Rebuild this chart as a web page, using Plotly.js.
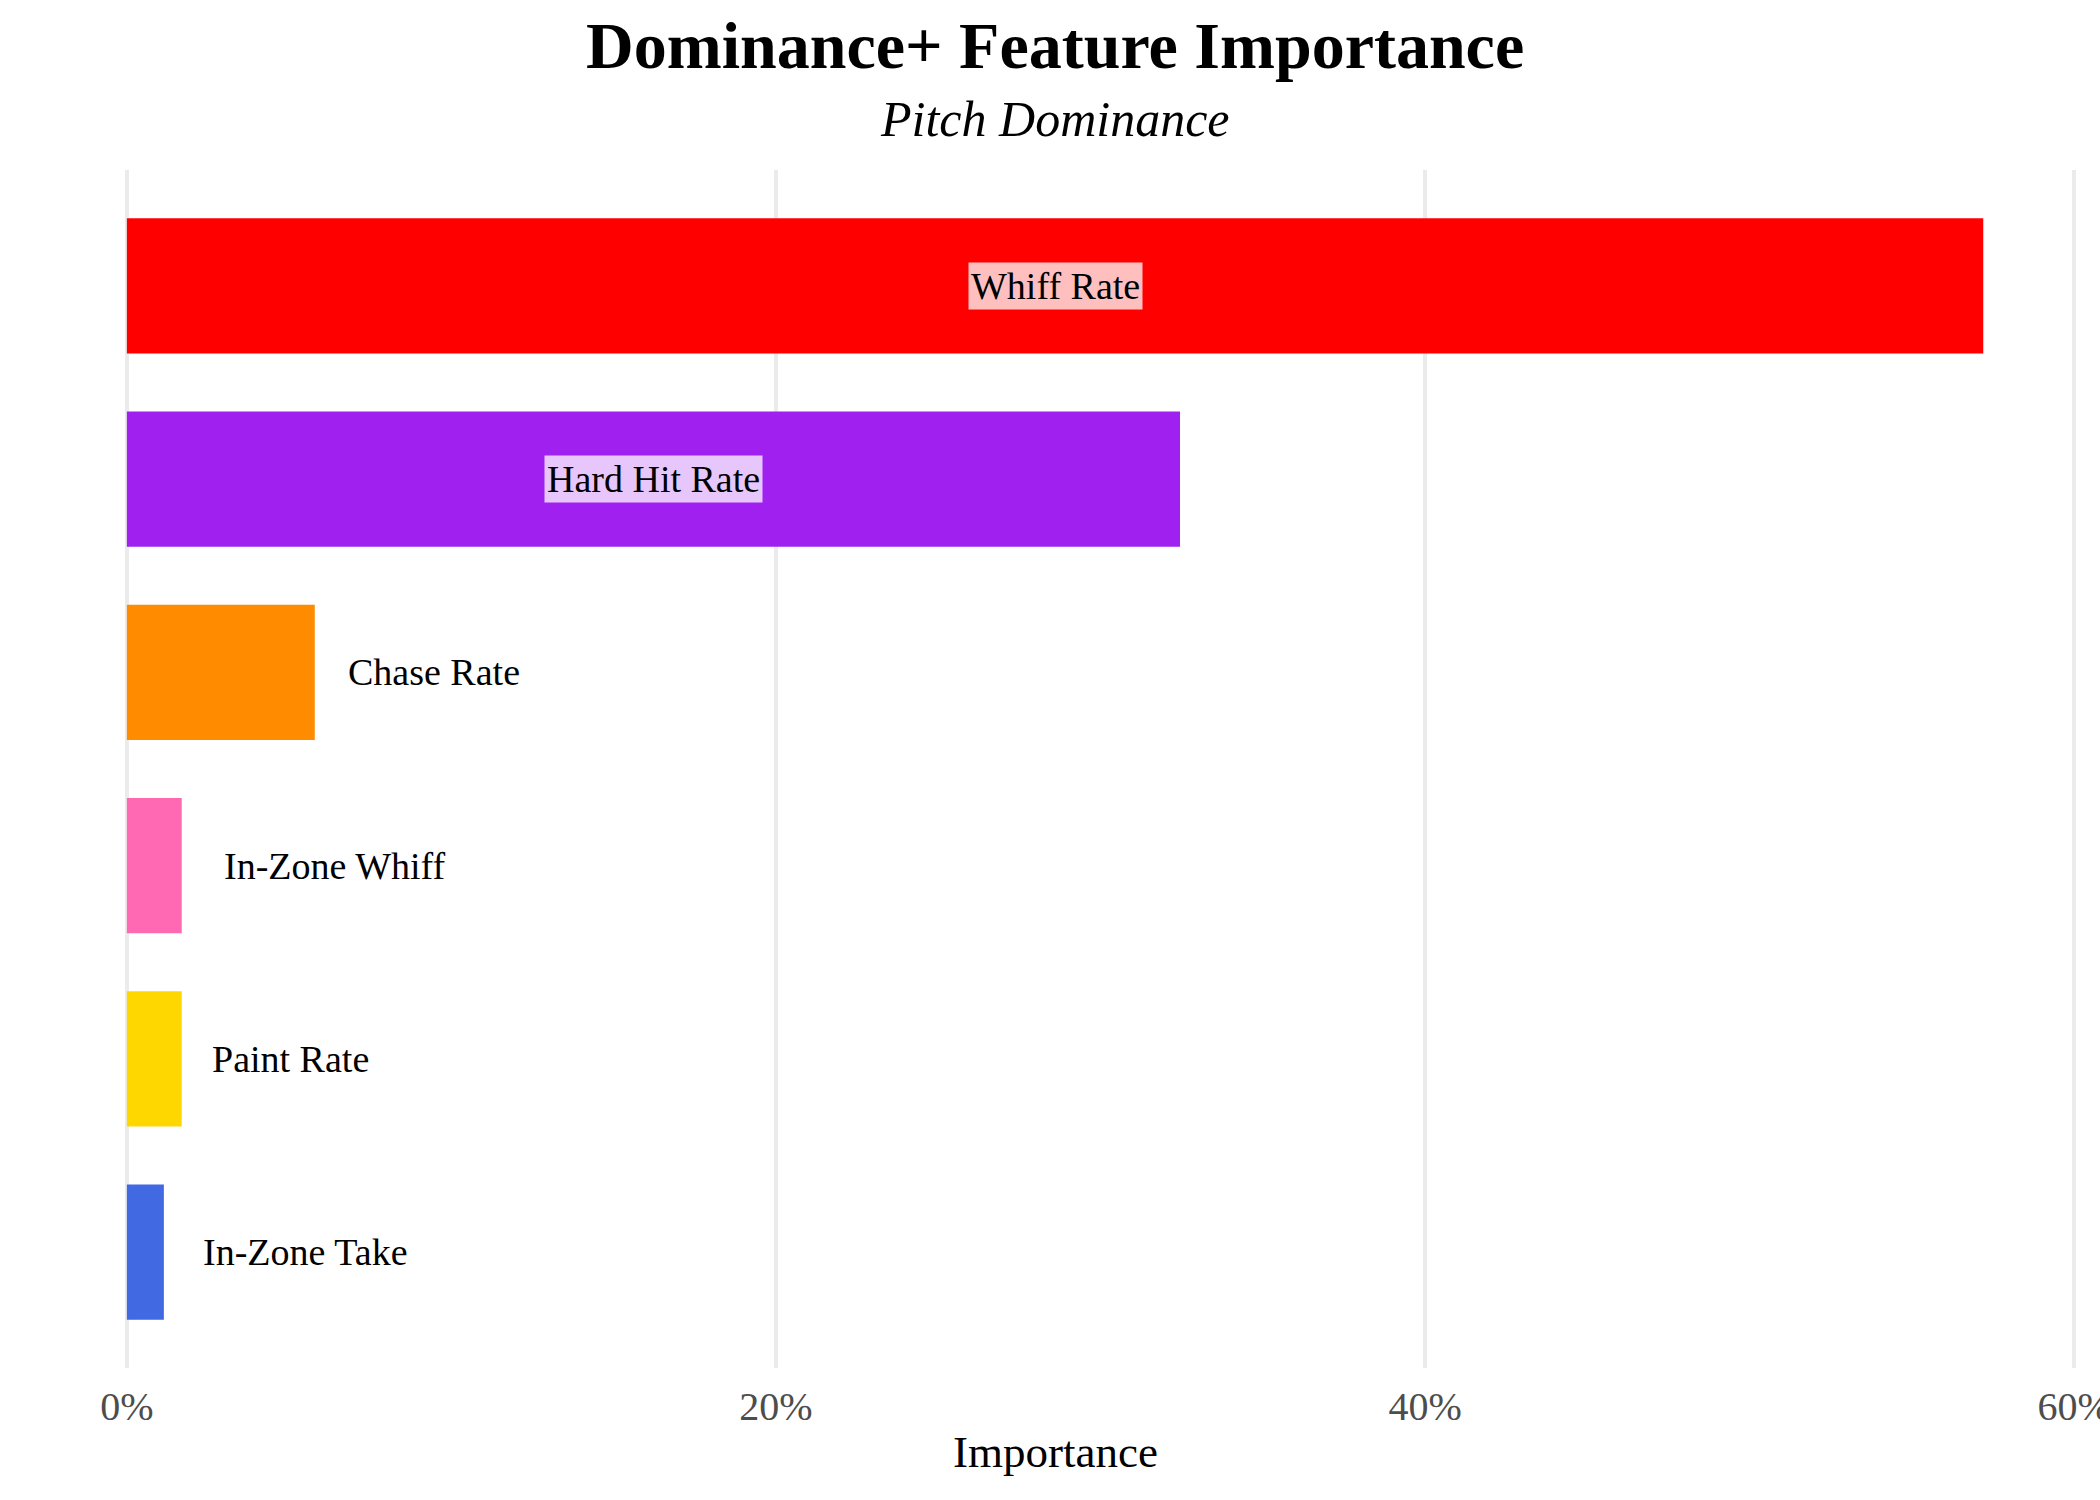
<!DOCTYPE html>
<html>
<head>
<meta charset="utf-8">
<script src="https://cdn.plot.ly/plotly-3.0.1.min.js"></script>
<style>
  html, body { margin: 0; padding: 0; background: #ffffff; }
  #chart { width: 2100px; height: 1500px; }
</style>
</head>
<body>
<div id="chart"></div>
<script>
const categories = ['Whiff Rate', 'Hard Hit Rate', 'Chase Rate', 'In-Zone Whiff', 'Paint Rate', 'In-Zone Take'];
const importance = [0.572, 0.3245, 0.0579, 0.0169, 0.0169, 0.0114];
const barColors = ['#FF0000', '#A020F0', '#FF8C00', '#FF69B4', '#FFD700', '#4169E1'];
const tickVals = [0, 0.2, 0.4, 0.6];
const tickText = ['0%', '20%', '40%', '60%'];

const serif = 'Liberation Serif, Times New Roman, Times, serif';
const labelSize = 38;

const canvas = document.createElement('canvas');
const ctx = canvas.getContext('2d');
ctx.font = labelSize + 'px "Liberation Serif"';
function textWidth(s) { return ctx.measureText(s).width; }

const labelAnnotations = categories.map((c, i) => {
  const v = importance[i];
  if (v > 0.2) {
    return {
      x: v / 2, y: c, xref: 'x', yref: 'y',
      text: c, showarrow: false, xanchor: 'center', yanchor: 'middle',
      font: { family: serif, size: labelSize, color: '#000000' },
      bgcolor: 'rgba(255,255,255,0.75)', borderpad: 2
    };
  }
  return {
    x: v, y: c, xref: 'x', yref: 'y',
    text: c, showarrow: false, xanchor: 'left', yanchor: 'middle',
    xshift: 0.18 * textWidth(c),
    font: { family: serif, size: labelSize, color: '#000000' }
  };
});

const trace = {
  type: 'bar',
  orientation: 'h',
  x: importance,
  y: categories,
  width: 0.7,
  marker: { color: barColors, line: { width: 0 } },
  hoverinfo: 'none'
};

const layout = {
  width: 2100, height: 1500,
  paper_bgcolor: '#ffffff', plot_bgcolor: '#ffffff',
  margin: { l: 122, r: 21, t: 170, b: 132 },
  showlegend: false,
  font: { family: serif },
  xaxis: {
    range: [-0.0015, 0.6015],
    tickvals: tickVals, ticktext: tickText,
    showgrid: true, gridcolor: '#EBEBEB', gridwidth: 4,
    zeroline: false, showline: false, ticks: '',
    tickfont: { family: serif, size: 40, color: '#4D4D4D' },
    ticklabelstandoff: 11,
    ticklabeloverflow: 'allow'
  },
  yaxis: {
    type: 'category',
    categoryorder: 'array', categoryarray: categories,
    range: [5.6, -0.6],
    showticklabels: false, showgrid: false, zeroline: false, showline: false, ticks: ''
  },
  annotations: [
    {
      text: '<b>Dominance+ Feature Importance</b>', xref: 'paper', yref: 'paper',
      x: 0.4768, y: 1.1043, xanchor: 'center', yanchor: 'middle', showarrow: false,
      font: { family: serif, size: 66, color: '#000000' }
    },
    {
      text: '<i>Pitch Dominance</i>', xref: 'paper', yref: 'paper',
      x: 0.4768, y: 1.0422, xanchor: 'center', yanchor: 'middle', showarrow: false,
      font: { family: serif, size: 50, color: '#000000' }
    },
    {
      text: 'Importance', xref: 'paper', yref: 'paper',
      x: 0.4768, y: -0.0701, xanchor: 'center', yanchor: 'middle', showarrow: false,
      font: { family: serif, size: 45, color: '#000000' }
    }
  ].concat(labelAnnotations)
};

Plotly.newPlot('chart', [trace], layout, { displayModeBar: false, staticPlot: true });
</script>
</body>
</html>
